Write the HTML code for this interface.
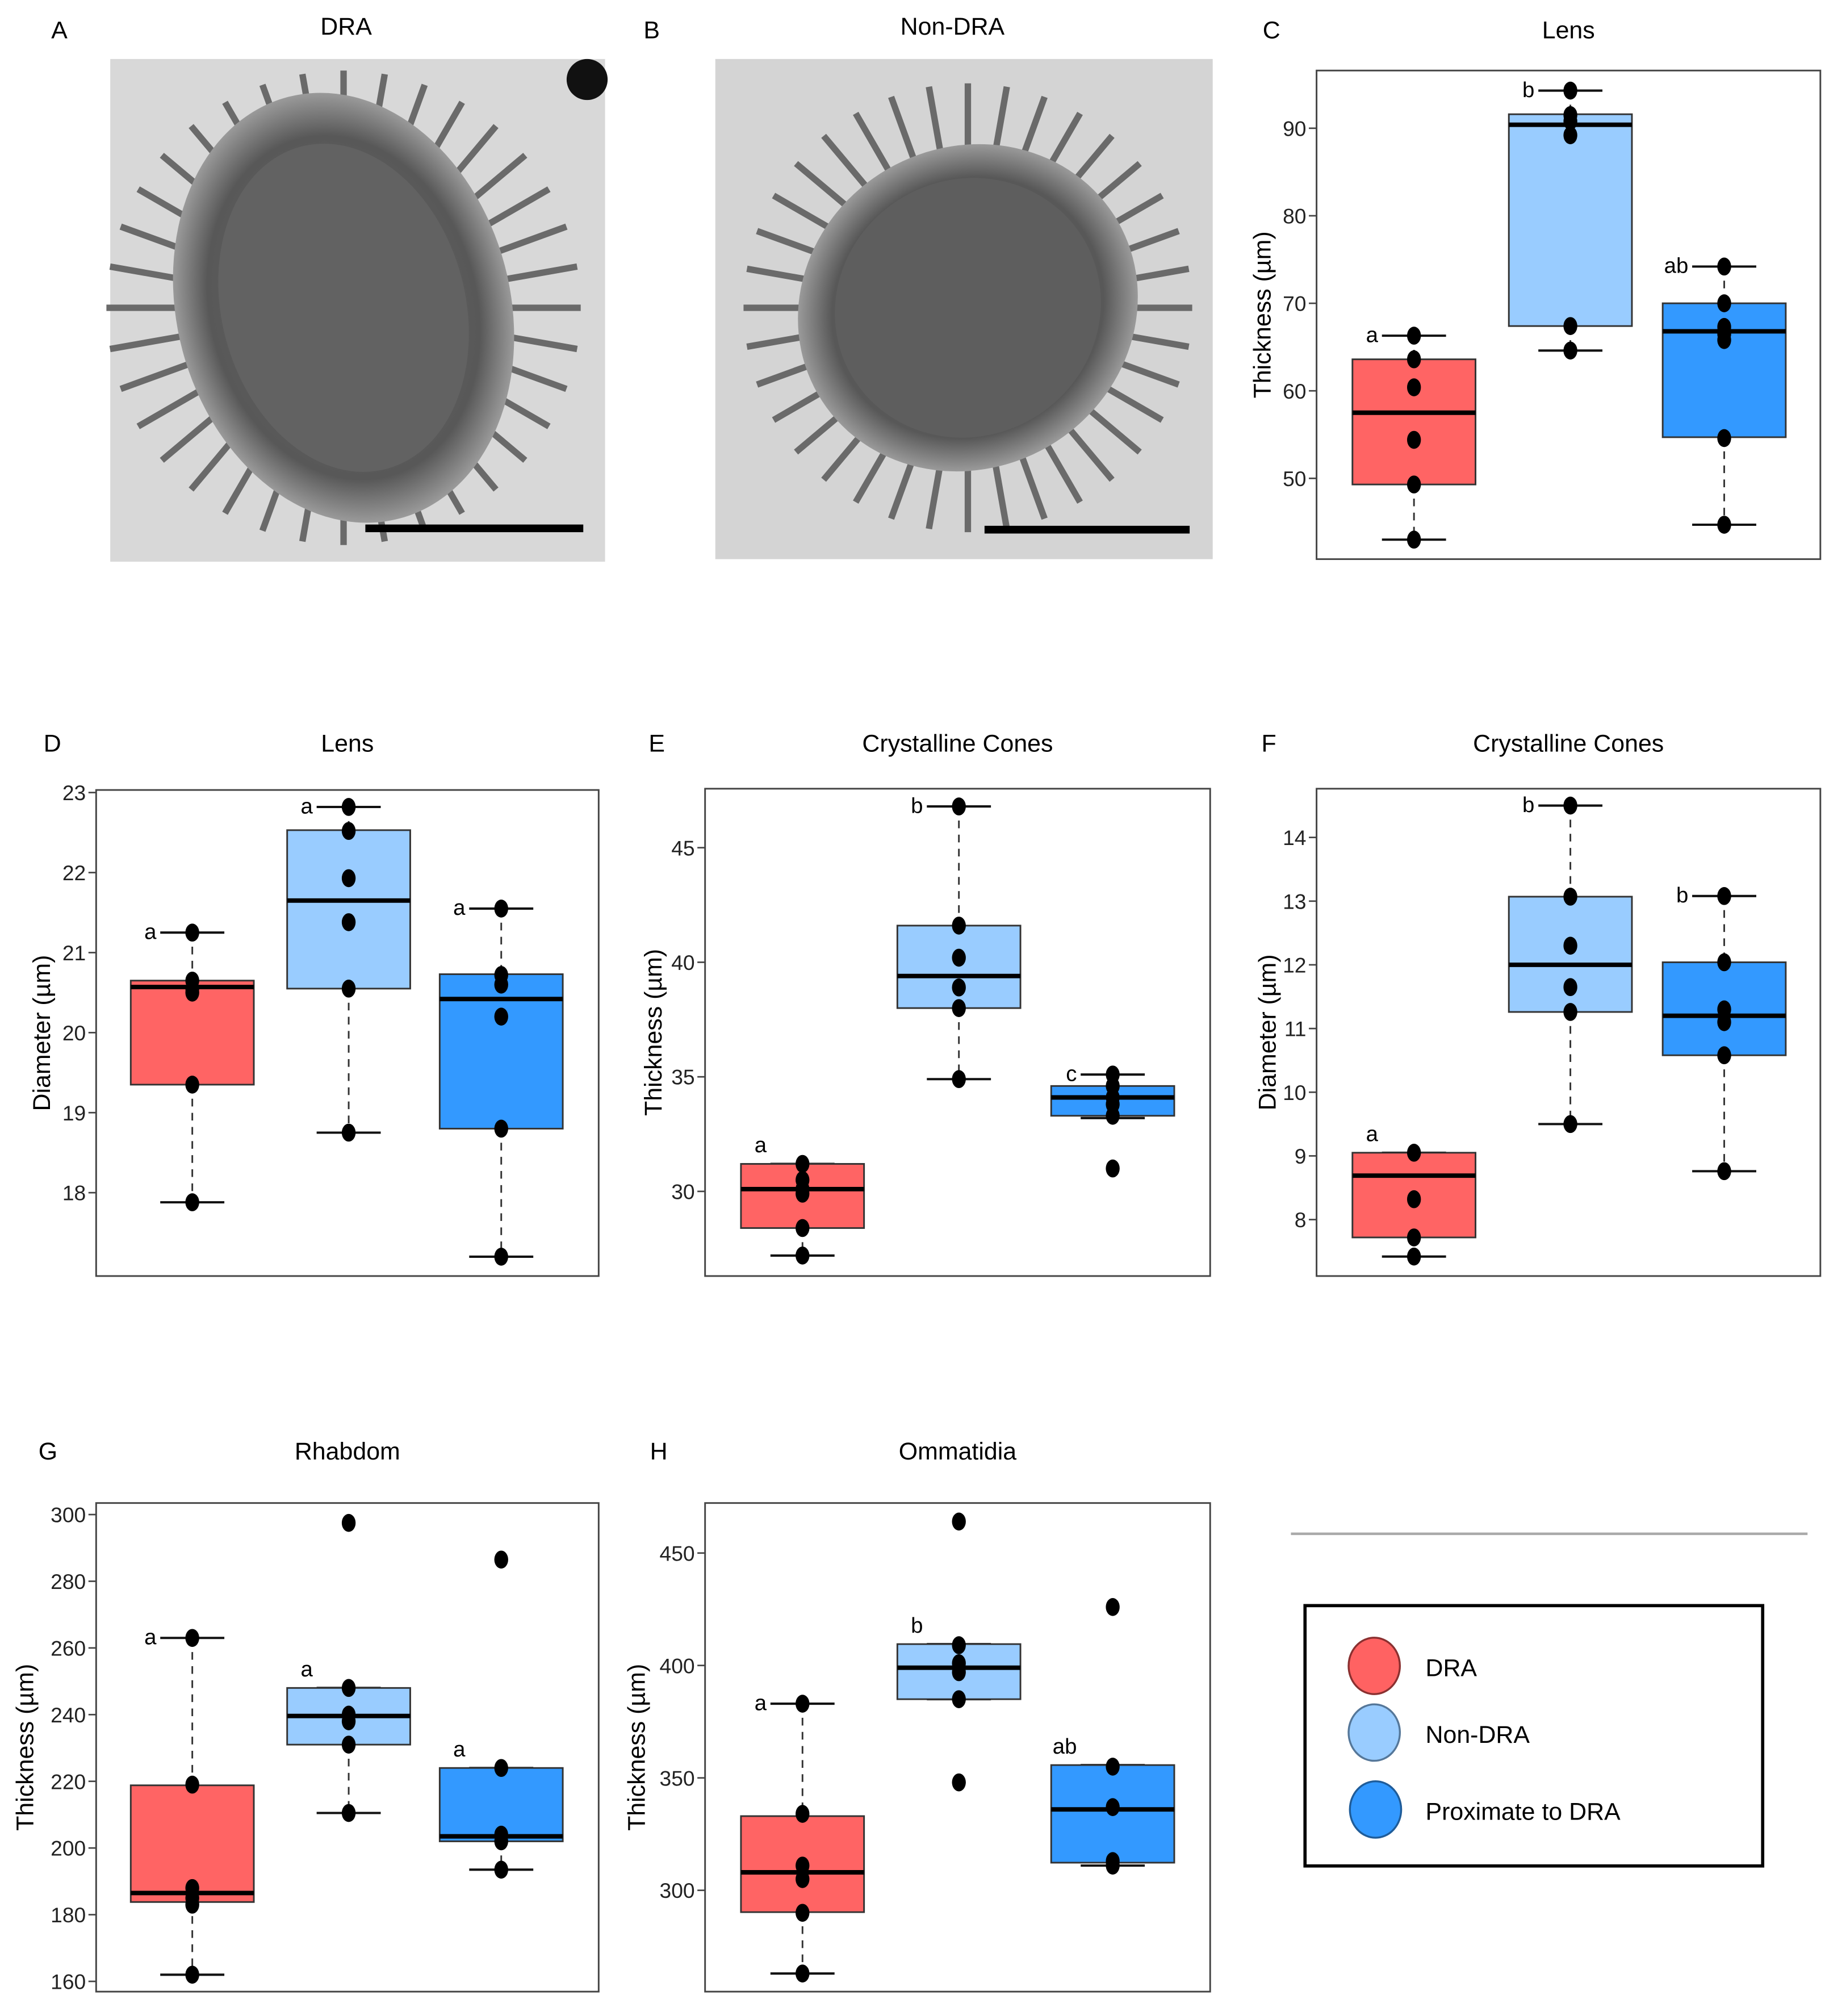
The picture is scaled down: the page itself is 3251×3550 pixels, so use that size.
<!DOCTYPE html>
<html><head><meta charset="utf-8">
<style>
html,body{margin:0;padding:0;background:#fff;}
svg{display:block;font-family:"Liberation Sans",Arial,sans-serif;}
</style></head>
<body>
<svg id="fig" width="3251" height="3550" viewBox="0 0 1440 1572" preserveAspectRatio="none" xmlns="http://www.w3.org/2000/svg">
<defs>
<radialGradient id="blob" cx="50%" cy="50%" r="50%">
<stop offset="0" stop-color="#6a6a6a"/><stop offset="0.8" stop-color="#585858"/><stop offset="1" stop-color="#9a9a9a"/>
</radialGradient>
</defs>
<g>
<text x="40" y="30" font-size="19">A</text>
<text x="270" y="27" font-size="19" text-anchor="middle">DRA</text>
<rect x="86" y="46" width="386" height="392" fill="#d8d8d8"/>
<g id="raysA" stroke="#6a6a6a" stroke-width="5"></g>
<ellipse cx="268" cy="240" rx="130" ry="170" fill="url(#blob)" transform="rotate(-15 268 240)"/>
<ellipse cx="268" cy="240" rx="95" ry="130" fill="#626262" transform="rotate(-15 268 240)"/>
<circle cx="458" cy="62" r="16" fill="#111"/>
<line x1="285" y1="412" x2="455" y2="412" stroke="#000" stroke-width="6"/>
</g>
<g>
<text x="502" y="30" font-size="19">B</text>
<text x="743" y="27" font-size="19" text-anchor="middle">Non-DRA</text>
<rect x="558" y="46" width="388" height="390" fill="#d4d4d4"/>
<g id="raysB" stroke="#6a6a6a" stroke-width="5"></g>
<ellipse cx="755" cy="240" rx="135" ry="125" fill="url(#blob)" transform="rotate(-30 755 240)"/>
<ellipse cx="755" cy="240" rx="105" ry="100" fill="#5e5e5e" transform="rotate(-30 755 240)"/>
<line x1="768" y1="413" x2="928" y2="413" stroke="#000" stroke-width="6"/>
</g>
<g id="charts"></g>
<line x1="1007" y1="1196" x2="1410" y2="1196" stroke="#aaa" stroke-width="2"/>
<g>
<rect x="1018" y="1252" width="357" height="203" fill="#fff" stroke="#000" stroke-width="2.5"/>
<g><ellipse cx="1072" cy="1299" rx="20" ry="22" fill="#ff6262" stroke="#8a3030" stroke-width="1.5"/><text x="1112" y="1307" font-size="19">DRA</text></g>
<g><ellipse cx="1072" cy="1351" rx="20" ry="22" fill="#99ccff" stroke="#557799" stroke-width="1.5"/><text x="1112" y="1359" font-size="19">Non-DRA</text></g>
<g><ellipse cx="1073" cy="1411" rx="20" ry="22" fill="#3399ff" stroke="#1f5c99" stroke-width="1.5"/><text x="1112" y="1419" font-size="19">Proximate to DRA</text></g>
</g>
</svg>
<script>
const groupNames = ["DRA","Non-DRA","Proximate to DRA"];
const groupColors = ["#ff6464","#99ccff","#3399ff"];
const cQ1=[49.3,67.4,54.7], cMed=[57.5,90.4,66.8], cQ3=[63.6,91.6,70.0], cLo=[43.0,64.6,44.7], cHi=[66.3,94.3,74.2];
const cPts=[[66.3,63.6,60.4,54.4,49.3,43.0],[94.3,91.5,90.8,89.2,67.4,64.6],[74.2,70.0,67.3,66.5,65.8,54.6,44.7]];
const cLetters=["a","b","ab"]; const cTicks=[50,60,70,80,90];
const dQ1=[19.35,20.55,18.8], dMed=[20.57,21.65,20.42], dQ3=[20.65,22.53,20.73], dLo=[17.88,18.75,17.2], dHi=[21.25,22.82,21.55];
const dPts=[[21.25,20.65,20.55,20.5,19.35,17.88],[22.82,22.52,21.93,21.38,20.55,18.75],[21.55,20.72,20.6,20.2,18.8,17.2]];
const dLetters=["a","a","a"]; const dTicks=[18,19,20,21,22,23];
const eQ1=[28.4,38.0,33.3], eMed=[30.1,39.4,34.1], eQ3=[31.2,41.6,34.6], eLo=[27.2,34.9,33.2], eHi=[31.2,46.8,35.1];
const ePts=[[31.2,30.5,30.1,29.9,28.4,27.2],[46.8,41.6,40.2,38.9,38.0,34.9],[35.1,34.6,34.1,33.8,33.3,31.0]];
const eLetters=["a","b","c"]; const eTicks=[30,35,40,45];
const fQ1=[7.72,11.26,10.58], fMed=[8.69,12.0,11.2], fQ3=[9.05,13.07,12.04], fLo=[7.42,9.5,8.76], fHi=[9.05,14.5,13.08];
const fPts=[[9.05,8.32,7.72,7.42],[14.5,13.07,12.3,11.65,11.26,9.5],[13.08,12.04,11.3,11.1,10.58,8.76]];
const fLetters=["a","b","b"]; const fTicks=[8,9,10,11,12,13,14];
const gQ1=[183.8,231,202], gMed=[186.5,239.6,203.5], gQ3=[218.8,248,224], gLo=[162,210.5,193.5], gHi=[263,248,224];
const gPts=[[263,219,188,185,183,162],[297.5,248,240,238,231,210.5],[286.5,224,204,202,193.5]];
const gLetters=["a","a","a"]; const gTicks=[160,180,200,220,240,260,280,300];
const hQ1=[290.3,385,312.3], hMed=[308,399,336], hQ3=[333,409.5,355.7], hLo=[263,385,311], hHi=[383,409.5,355.7];
const hPts=[[383,334,311,305,290,263],[464,409,401,397,385,348],[426,355,337,313,311]];
const hLetters=["a","b","ab"]; const hTicks=[300,350,400,450];

const NS="http://www.w3.org/2000/svg";
const root=document.getElementById("charts");
function mk(tag,attrs,parent){const e=document.createElementNS(NS,tag);for(const k in attrs)e.setAttribute(k,attrs[k]);parent.appendChild(e);return e;}

// decorative rays for micrographs
[["raysA",268,240,185],["raysB",755,240,175]].forEach(([id,cx,cy,r])=>{
  const g=document.getElementById(id);
  for(let k=0;k<36;k++){const a=k*Math.PI/18;
    mk("line",{x1:cx,y1:cy,x2:cx+r*Math.cos(a),y2:cy+r*Math.sin(a)},g);}
});

const panels=[
 {id:"c",lab:"C",title:"Lens",yl:"Thickness (µm)",x0:1027,x1:1420,y0:55,y1:436,ya:100,va:90,yb:373,vb:50,cx:[1103,1225,1345],labx:985,laby:30,ylx:985,
  q1:cQ1,med:cMed,q3:cQ3,lo:cLo,hi:cHi,pts:cPts,let:cLetters,ticks:cTicks},
 {id:"d",lab:"D",title:"Lens",yl:"Diameter (µm)",x0:75,x1:467,y0:616,y1:995,ya:618,va:23,yb:930,vb:18,cx:[150,272,391],labx:34,laby:586,ylx:33,
  q1:dQ1,med:dMed,q3:dQ3,lo:dLo,hi:dHi,pts:dPts,let:dLetters,ticks:dTicks},
 {id:"e",lab:"E",title:"Crystalline Cones",yl:"Thickness (µm)",x0:550,x1:944,y0:615,y1:995,ya:661,va:45,yb:929,vb:30,cx:[626,748,868],labx:506,laby:586,ylx:510,
  q1:eQ1,med:eMed,q3:eQ3,lo:eLo,hi:eHi,pts:ePts,let:eLetters,ticks:eTicks},
 {id:"f",lab:"F",title:"Crystalline Cones",yl:"Diameter (µm)",x0:1027,x1:1420,y0:615,y1:995,ya:653,va:14,yb:951,vb:8,cx:[1103,1225,1345],labx:984,laby:586,ylx:989,
  q1:fQ1,med:fMed,q3:fQ3,lo:fLo,hi:fHi,pts:fPts,let:fLetters,ticks:fTicks},
 {id:"g",lab:"G",title:"Rhabdom",yl:"Thickness (µm)",x0:75,x1:467,y0:1172,y1:1553,ya:1181,va:300,yb:1545,vb:160,cx:[150,272,391],labx:30,laby:1138,ylx:20,
  q1:gQ1,med:gMed,q3:gQ3,lo:gLo,hi:gHi,pts:gPts,let:gLetters,ticks:gTicks},
 {id:"h",lab:"H",title:"Ommatidia",yl:"Thickness (µm)",x0:550,x1:944,y0:1172,y1:1553,ya:1211,va:450,yb:1474,vb:300,cx:[626,748,868],labx:507,laby:1138,ylx:497,
  q1:hQ1,med:hMed,q3:hQ3,lo:hLo,hi:hHi,pts:hPts,let:hLetters,ticks:hTicks}
];

panels.forEach(p=>{
  const y=v=>p.ya+(v-p.va)*(p.yb-p.ya)/(p.vb-p.va);
  const g=mk("g",{},root);
  
  
  const lab=mk("text",{x:p.labx,y:p.laby,"font-size":19},g); lab.textContent=p.lab;
  
  
  const t=mk("text",{x:(p.x0+p.x1)/2,y:p.laby,"font-size":19,"text-anchor":"middle"},g); t.textContent=p.title;
  
  
  const fr=mk("rect",{x:p.x0,y:p.y0,width:p.x1-p.x0,height:p.y1-p.y0,fill:"none",stroke:"#444","stroke-width":1.3},g);
  
  
  const yc=(p.y0+p.y1)/2;
  const yl=mk("text",{x:p.ylx,y:yc,"font-size":19,"text-anchor":"middle",transform:`rotate(-90 ${p.ylx} ${yc})`,dy:"6"},g); yl.textContent=p.yl;
  
  
  p.ticks.forEach(v=>{
    const ty=y(v);
    const tl=mk("line",{x1:p.x0-6,x2:p.x0,y1:ty,y2:ty,stroke:"#444","stroke-width":1.2},g);
    
    
    const tt=mk("text",{x:p.x0-8,y:ty+6,"font-size":16.5,"text-anchor":"end",fill:"#222"},g); tt.textContent=v;
    
    
  });
  for(let i=0;i<3;i++){
    const cx=p.cx[i], hw=48, cw=25;
    const bg=mk("g",{},g);
    
    
    mk("line",{x1:cx,x2:cx,y1:y(p.hi[i]),y2:y(p.q3[i]),stroke:"#333","stroke-width":1.3,"stroke-dasharray":"6,5"},bg);
    mk("line",{x1:cx,x2:cx,y1:y(p.q1[i]),y2:y(p.lo[i]),stroke:"#333","stroke-width":1.3,"stroke-dasharray":"6,5"},bg);
    mk("line",{x1:cx-cw,x2:cx+cw,y1:y(p.hi[i]),y2:y(p.hi[i]),stroke:"#111","stroke-width":1.8},bg);
    mk("line",{x1:cx-cw,x2:cx+cw,y1:y(p.lo[i]),y2:y(p.lo[i]),stroke:"#111","stroke-width":1.8},bg);
    mk("rect",{x:cx-hw,y:y(p.q3[i]),width:2*hw,height:Math.max(1,y(p.q1[i])-y(p.q3[i])),fill:groupColors[i],stroke:"#333","stroke-width":1.3},bg);
    mk("line",{x1:cx-hw,x2:cx+hw,y1:y(p.med[i]),y2:y(p.med[i]),stroke:"#000","stroke-width":3.5},bg);
    p.pts[i].forEach(v=>{
      const pt=mk("ellipse",{cx:cx,cy:y(v),rx:5.4,ry:7,fill:"#000"},bg);
      
      
    });
    const ltY=Math.min(y(p.hi[i]),y(p.q3[i]))-(p.hi[i]>p.q3[i]?0:14);
    const lt=mk("text",{x:cx-28,y:ltY+5,"font-size":17,"text-anchor":"end"},g); lt.textContent=p.let[i];
    
    
  }
});
</script>
</body></html>
